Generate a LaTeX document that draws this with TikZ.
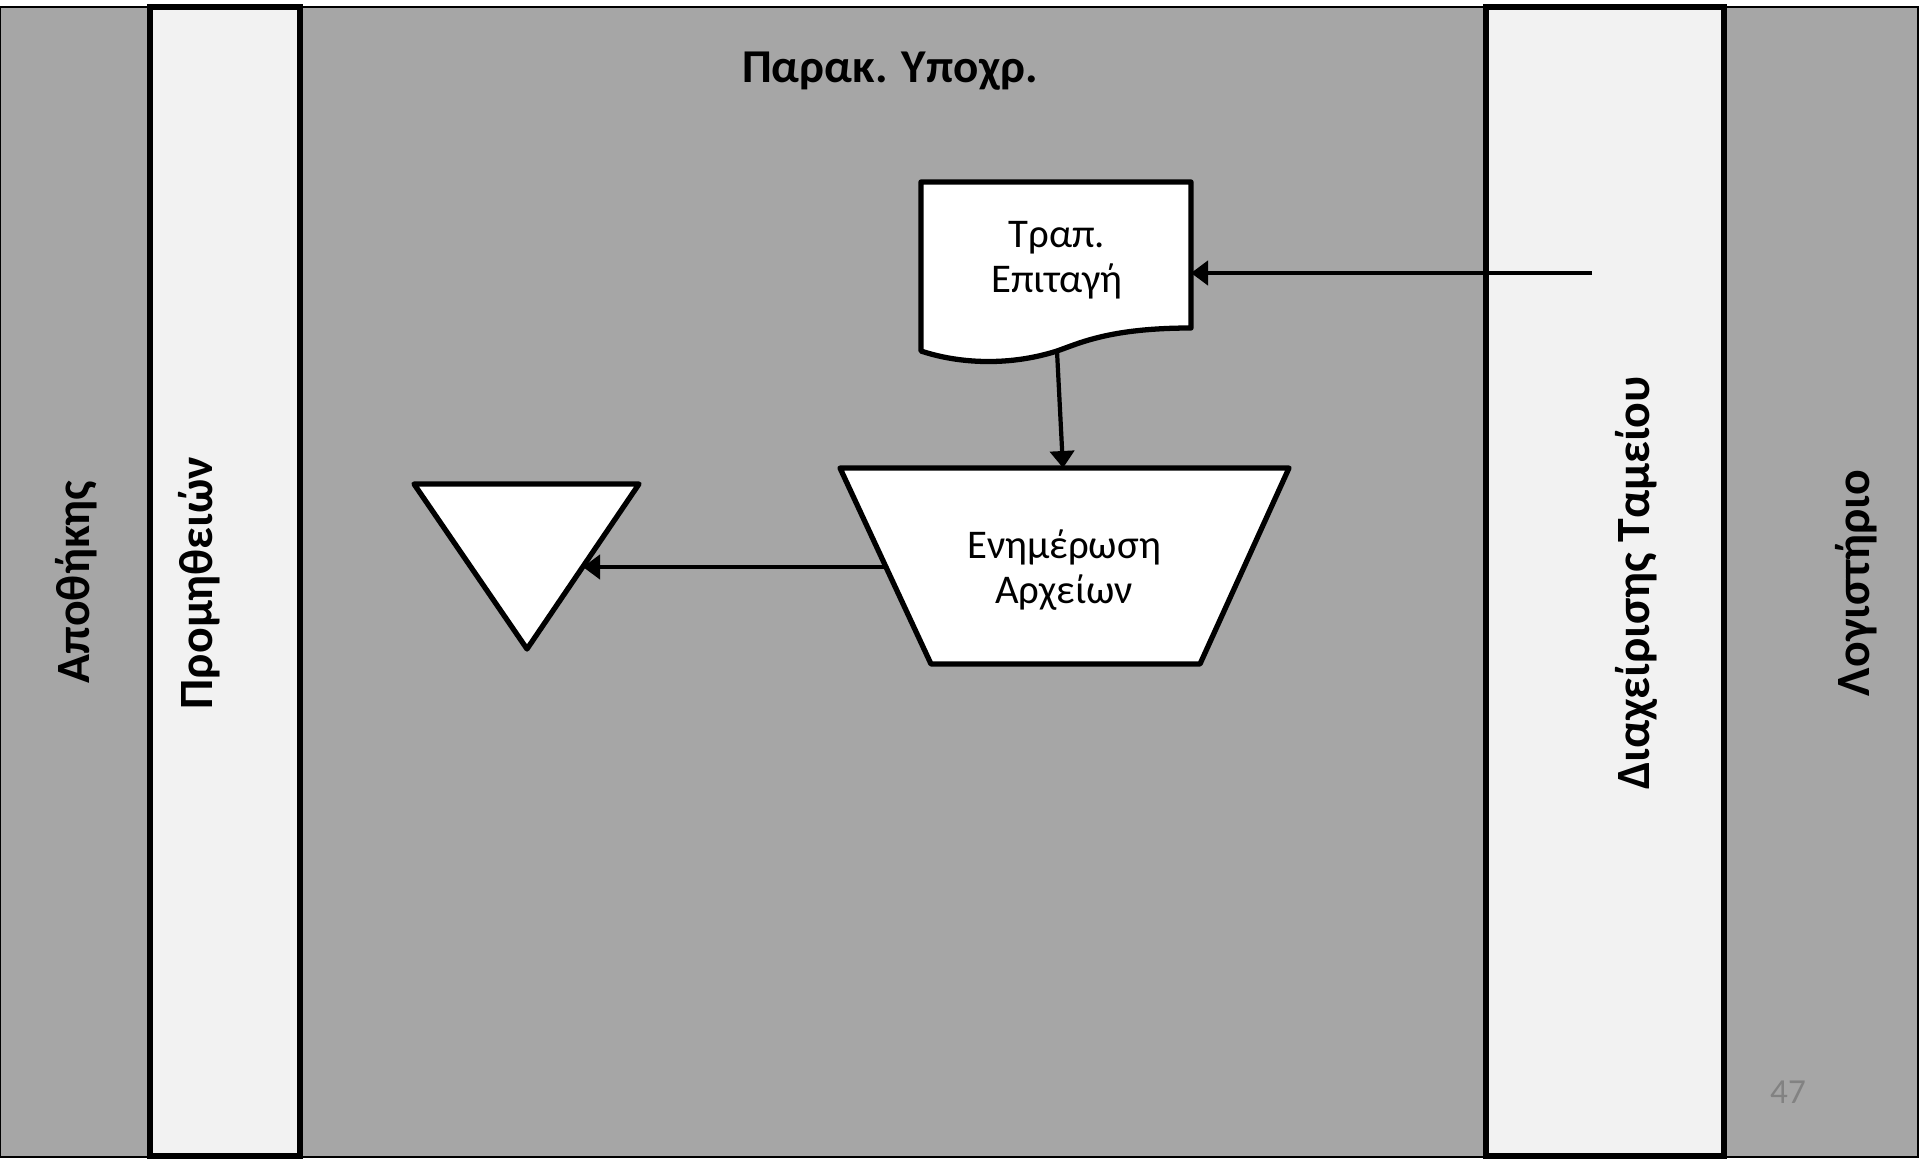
\documentclass[tikz,border=0pt]{standalone}
\usepackage{fontspec}
\setmainfont{Carlito}
\usetikzlibrary{arrows.meta}
\definecolor{laneGray}{RGB}{166,166,166}
\definecolor{laneLight}{RGB}{242,242,242}
\definecolor{pageNum}{RGB}{130,130,130}
\tikzset{
  darklane/.style={fill=laneGray, draw=black, line width=0.6pt},
  lightlane/.style={fill=laneLight, draw=black, line width=1.5pt},
  lanelabel/.style={rotate=90, anchor=center, font=\fontsize{13.6}{15}\selectfont\bfseries},
  shapebox/.style={fill=white, draw=black, line width=1.5pt, line join=round},
  boxtext/.style={align=center, font=\fontsize{11.6}{12.8}\selectfont},
  flow/.style={-{Triangle[length=1.7mm,width=2.4mm]}, line width=1.2pt}
}
\begin{document}
\begin{tikzpicture}[x=0.1mm, y=-0.1mm]
		\useasboundingbox (0,0) rectangle (1920,1159);
		\fill[white] (0,0) rectangle (1920,1159);
		\draw[darklane]  (0,7) rectangle (148,1157);
		\draw[darklane]  (300,7) rectangle (1484,1157);
		\draw[darklane]  (1725,7) rectangle (1918,1157);
		\draw[lightlane] (150,7) rectangle (300,1156);
		\draw[lightlane] (1486,7) rectangle (1724,1156);
		\node[lanelabel](store)  at (76,582)  {Αποθήκης};
		\node[lanelabel](supply) at (199,583) {Προμηθειών};
		\node[lanelabel](cash)   at (1636,583){Διαχείρισης Ταμείου};
		\node[lanelabel](acct)   at (1856,583){Λογιστήριο};
		\node[font=\fontsize{13.4}{15}\selectfont\bfseries](payables) at (890,71){Παρακ. Υποχρ.};
		\draw[shapebox] (921,182) -- (1191,182) -- (1191,328) .. controls (1110,328) and (1080,343) .. (1057,351) .. controls (1010,366) and (960,364) .. (921,351) -- cycle;
		\node[boxtext](cheque) at (1057,260){Τραπ.\\Επιταγή};
		\coordinate (cheque-in)  at (1191,273);
		\coordinate (cheque-out) at (1057,351);
		\coordinate (cheque-src) at (1592,273);
		\draw[shapebox] (840,468) -- (1289,468) -- (1200,664) -- (931,664) -- cycle;
		\node[boxtext](update) at (1064,570){Ενημέρωση\\Αρχείων};
		\coordinate (update-n) at (1063,468);
		\coordinate (update-w) at (885,567);
		\draw[shapebox] (414,484) -- (639,484) -- (527,649) -- cycle;
		\coordinate (file-e) at (583,567);
		\draw[flow] (cheque-src) -- (cheque-in);
		\draw[flow] (cheque-out) -- (update-n);
		\draw[flow] (update-w) -- (file-e);
		\node[text=pageNum, font=\fontsize{10}{12}\selectfont](pagenum) at (1788,1092){47};
	\end{tikzpicture}
\end{document}
